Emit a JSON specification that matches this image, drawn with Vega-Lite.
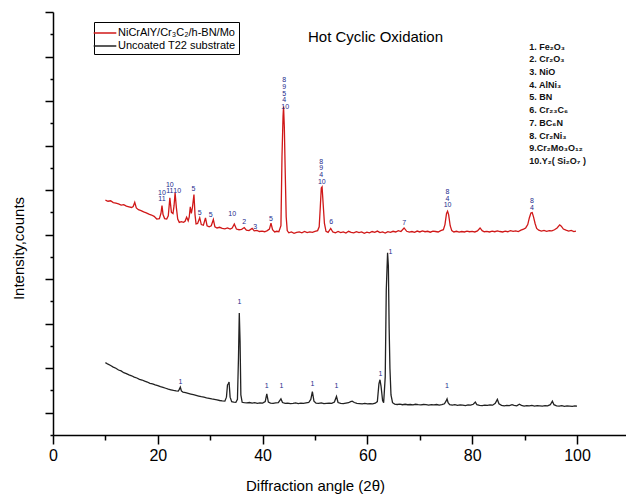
{
  "$schema": "https://vega.github.io/schema/vega-lite/v6.json",
  "width": 573,
  "height": 423,
  "autosize": {"type": "none"},
  "padding": {"left": 53, "top": 12, "right": 0, "bottom": 60},
  "background": "white",
  "config": {
    "font": "Liberation Sans",
    "view": {"stroke": null},
    "axis": {"domainColor": "#000", "domainWidth": 1.5, "tickColor": "#000", "tickWidth": 1.5, "grid": false, "labelColor": "#000", "titleColor": "#000", "titleFontWeight": "normal"}
  },
  "title": {"text": "Hot Cyclic Oxidation", "fontSize": 15, "fontWeight": "normal", "font": "Liberation Sans", "anchor": "middle", "frame": "group", "dx": 36, "dy": 38, "color": "#000"},
  "datasets": {
    "xrd": [
      {"a":10.0,"i":10.55,"s":"coated"},{"a":10.5,"i":10.50,"s":"coated"},{"a":11.0,"i":10.52,"s":"coated"},{"a":11.5,"i":10.44,"s":"coated"},{"a":12.0,"i":10.42,"s":"coated"},{"a":12.5,"i":10.38,"s":"coated"},{"a":13.0,"i":10.33,"s":"coated"},{"a":13.5,"i":10.35,"s":"coated"},{"a":14.0,"i":10.28,"s":"coated"},{"a":14.5,"i":10.25,"s":"coated"},{"a":15.0,"i":10.22,"s":"coated"},{"a":15.3,"i":10.26,"s":"coated"},{"a":15.6,"i":10.45,"s":"coated"},{"a":15.9,"i":10.20,"s":"coated"},{"a":16.3,"i":10.12,"s":"coated"},{"a":16.8,"i":10.08,"s":"coated"},{"a":17.3,"i":10.02,"s":"coated"},{"a":17.8,"i":9.98,"s":"coated"},{"a":18.3,"i":9.92,"s":"coated"},{"a":18.8,"i":9.88,"s":"coated"},{"a":19.3,"i":9.82,"s":"coated"},{"a":19.8,"i":9.70,"s":"coated"},{"a":20.3,"i":9.72,"s":"coated"},{"a":20.6,"i":9.95,"s":"coated"},{"a":20.8,"i":10.30,"s":"coated"},{"a":21.0,"i":9.90,"s":"coated"},{"a":21.3,"i":9.72,"s":"coated"},{"a":21.7,"i":9.70,"s":"coated"},{"a":22.0,"i":9.85,"s":"coated"},{"a":22.3,"i":10.65,"s":"coated"},{"a":22.6,"i":10.00,"s":"coated"},{"a":22.9,"i":9.95,"s":"coated"},{"a":23.1,"i":10.30,"s":"coated"},{"a":23.3,"i":10.88,"s":"coated"},{"a":23.55,"i":10.20,"s":"coated"},{"a":23.8,"i":9.70,"s":"coated"},{"a":24.1,"i":9.55,"s":"coated"},{"a":24.5,"i":9.58,"s":"coated"},{"a":24.9,"i":9.55,"s":"coated"},{"a":25.2,"i":9.60,"s":"coated"},{"a":25.5,"i":9.78,"s":"coated"},{"a":25.8,"i":9.62,"s":"coated"},{"a":26.0,"i":9.80,"s":"coated"},{"a":26.2,"i":10.25,"s":"coated"},{"a":26.4,"i":9.95,"s":"coated"},{"a":26.6,"i":10.20,"s":"coated"},{"a":26.9,"i":10.80,"s":"coated"},{"a":27.1,"i":9.90,"s":"coated"},{"a":27.3,"i":9.48,"s":"coated"},{"a":27.6,"i":9.50,"s":"coated"},{"a":28.0,"i":9.76,"s":"coated"},{"a":28.3,"i":9.45,"s":"coated"},{"a":28.7,"i":9.42,"s":"coated"},{"a":29.1,"i":9.75,"s":"coated"},{"a":29.4,"i":9.40,"s":"coated"},{"a":29.8,"i":9.35,"s":"coated"},{"a":30.2,"i":9.40,"s":"coated"},{"a":30.6,"i":9.68,"s":"coated"},{"a":30.9,"i":9.35,"s":"coated"},{"a":31.3,"i":9.30,"s":"coated"},{"a":31.8,"i":9.33,"s":"coated"},{"a":32.3,"i":9.28,"s":"coated"},{"a":32.8,"i":9.26,"s":"coated"},{"a":33.3,"i":9.30,"s":"coated"},{"a":33.8,"i":9.25,"s":"coated"},{"a":34.2,"i":9.30,"s":"coated"},{"a":34.6,"i":9.48,"s":"coated"},{"a":35.0,"i":9.25,"s":"coated"},{"a":35.5,"i":9.22,"s":"coated"},{"a":36.0,"i":9.24,"s":"coated"},{"a":36.5,"i":9.32,"s":"coated"},{"a":36.9,"i":9.20,"s":"coated"},{"a":37.4,"i":9.18,"s":"coated"},{"a":38.0,"i":9.28,"s":"coated"},{"a":38.4,"i":9.17,"s":"coated"},{"a":38.9,"i":9.19,"s":"coated"},{"a":39.4,"i":9.14,"s":"coated"},{"a":39.9,"i":9.16,"s":"coated"},{"a":40.4,"i":9.13,"s":"coated"},{"a":40.9,"i":9.18,"s":"coated"},{"a":41.3,"i":9.25,"s":"coated"},{"a":41.6,"i":9.52,"s":"coated"},{"a":41.9,"i":9.22,"s":"coated"},{"a":42.3,"i":9.12,"s":"coated"},{"a":42.7,"i":9.15,"s":"coated"},{"a":43.1,"i":9.13,"s":"coated"},{"a":43.5,"i":9.40,"s":"coated"},{"a":43.7,"i":12.50,"s":"coated"},{"a":43.9,"i":14.30,"s":"coated"},{"a":44.0,"i":14.75,"s":"coated"},{"a":44.15,"i":13.80,"s":"coated"},{"a":44.3,"i":12.00,"s":"coated"},{"a":44.5,"i":9.80,"s":"coated"},{"a":44.7,"i":9.18,"s":"coated"},{"a":45.0,"i":9.08,"s":"coated"},{"a":45.5,"i":9.12,"s":"coated"},{"a":46.0,"i":9.06,"s":"coated"},{"a":46.5,"i":9.10,"s":"coated"},{"a":47.0,"i":9.12,"s":"coated"},{"a":47.5,"i":9.08,"s":"coated"},{"a":48.0,"i":9.14,"s":"coated"},{"a":48.5,"i":9.09,"s":"coated"},{"a":49.0,"i":9.12,"s":"coated"},{"a":49.5,"i":9.10,"s":"coated"},{"a":50.0,"i":9.15,"s":"coated"},{"a":50.5,"i":9.18,"s":"coated"},{"a":50.8,"i":9.35,"s":"coated"},{"a":51.0,"i":10.20,"s":"coated"},{"a":51.2,"i":11.10,"s":"coated"},{"a":51.35,"i":11.15,"s":"coated"},{"a":51.55,"i":10.40,"s":"coated"},{"a":51.8,"i":9.50,"s":"coated"},{"a":52.1,"i":9.15,"s":"coated"},{"a":52.5,"i":9.10,"s":"coated"},{"a":53.0,"i":9.28,"s":"coated"},{"a":53.4,"i":9.12,"s":"coated"},{"a":53.9,"i":9.08,"s":"coated"},{"a":54.4,"i":9.14,"s":"coated"},{"a":54.9,"i":9.09,"s":"coated"},{"a":55.4,"i":9.12,"s":"coated"},{"a":55.9,"i":9.07,"s":"coated"},{"a":56.4,"i":9.15,"s":"coated"},{"a":56.9,"i":9.10,"s":"coated"},{"a":57.4,"i":9.08,"s":"coated"},{"a":57.9,"i":9.13,"s":"coated"},{"a":58.4,"i":9.09,"s":"coated"},{"a":58.9,"i":9.12,"s":"coated"},{"a":59.4,"i":9.06,"s":"coated"},{"a":59.9,"i":9.11,"s":"coated"},{"a":60.4,"i":9.08,"s":"coated"},{"a":60.9,"i":9.14,"s":"coated"},{"a":61.4,"i":9.10,"s":"coated"},{"a":61.9,"i":9.16,"s":"coated"},{"a":62.4,"i":9.09,"s":"coated"},{"a":62.9,"i":9.12,"s":"coated"},{"a":63.4,"i":9.07,"s":"coated"},{"a":63.9,"i":9.13,"s":"coated"},{"a":64.4,"i":9.10,"s":"coated"},{"a":64.9,"i":9.15,"s":"coated"},{"a":65.4,"i":9.12,"s":"coated"},{"a":65.9,"i":9.18,"s":"coated"},{"a":66.4,"i":9.14,"s":"coated"},{"a":67.0,"i":9.30,"s":"coated"},{"a":67.5,"i":9.15,"s":"coated"},{"a":68.0,"i":9.11,"s":"coated"},{"a":68.5,"i":9.14,"s":"coated"},{"a":69.0,"i":9.10,"s":"coated"},{"a":69.5,"i":9.16,"s":"coated"},{"a":70.0,"i":9.12,"s":"coated"},{"a":70.5,"i":9.17,"s":"coated"},{"a":71.0,"i":9.13,"s":"coated"},{"a":71.5,"i":9.15,"s":"coated"},{"a":72.0,"i":9.11,"s":"coated"},{"a":72.5,"i":9.16,"s":"coated"},{"a":73.0,"i":9.14,"s":"coated"},{"a":73.5,"i":9.12,"s":"coated"},{"a":74.0,"i":9.18,"s":"coated"},{"a":74.5,"i":9.22,"s":"coated"},{"a":74.8,"i":9.45,"s":"coated"},{"a":75.1,"i":9.95,"s":"coated"},{"a":75.3,"i":10.05,"s":"coated"},{"a":75.5,"i":9.90,"s":"coated"},{"a":75.8,"i":9.40,"s":"coated"},{"a":76.1,"i":9.18,"s":"coated"},{"a":76.5,"i":9.12,"s":"coated"},{"a":77.0,"i":9.15,"s":"coated"},{"a":77.5,"i":9.11,"s":"coated"},{"a":78.0,"i":9.14,"s":"coated"},{"a":78.5,"i":9.12,"s":"coated"},{"a":79.0,"i":9.16,"s":"coated"},{"a":79.5,"i":9.13,"s":"coated"},{"a":80.0,"i":9.15,"s":"coated"},{"a":80.5,"i":9.12,"s":"coated"},{"a":81.0,"i":9.17,"s":"coated"},{"a":81.5,"i":9.30,"s":"coated"},{"a":81.9,"i":9.18,"s":"coated"},{"a":82.3,"i":9.13,"s":"coated"},{"a":82.8,"i":9.15,"s":"coated"},{"a":83.3,"i":9.12,"s":"coated"},{"a":83.8,"i":9.16,"s":"coated"},{"a":84.3,"i":9.13,"s":"coated"},{"a":84.8,"i":9.17,"s":"coated"},{"a":85.3,"i":9.14,"s":"coated"},{"a":85.8,"i":9.12,"s":"coated"},{"a":86.3,"i":9.16,"s":"coated"},{"a":86.8,"i":9.13,"s":"coated"},{"a":87.3,"i":9.18,"s":"coated"},{"a":87.8,"i":9.15,"s":"coated"},{"a":88.3,"i":9.17,"s":"coated"},{"a":88.8,"i":9.14,"s":"coated"},{"a":89.3,"i":9.20,"s":"coated"},{"a":89.8,"i":9.25,"s":"coated"},{"a":90.2,"i":9.30,"s":"coated"},{"a":90.6,"i":9.45,"s":"coated"},{"a":90.9,"i":9.75,"s":"coated"},{"a":91.2,"i":9.97,"s":"coated"},{"a":91.45,"i":9.99,"s":"coated"},{"a":91.7,"i":9.80,"s":"coated"},{"a":92.0,"i":9.50,"s":"coated"},{"a":92.3,"i":9.28,"s":"coated"},{"a":92.7,"i":9.20,"s":"coated"},{"a":93.2,"i":9.16,"s":"coated"},{"a":93.7,"i":9.19,"s":"coated"},{"a":94.2,"i":9.15,"s":"coated"},{"a":94.7,"i":9.18,"s":"coated"},{"a":95.2,"i":9.17,"s":"coated"},{"a":95.7,"i":9.22,"s":"coated"},{"a":96.2,"i":9.30,"s":"coated"},{"a":96.7,"i":9.44,"s":"coated"},{"a":97.0,"i":9.38,"s":"coated"},{"a":97.4,"i":9.25,"s":"coated"},{"a":97.9,"i":9.20,"s":"coated"},{"a":98.4,"i":9.16,"s":"coated"},{"a":98.9,"i":9.19,"s":"coated"},{"a":99.4,"i":9.14,"s":"coated"},{"a":99.8,"i":9.16,"s":"coated"},
      {"a":10.0,"i":3.25,"s":"uncoated"},{"a":10.5,"i":3.18,"s":"uncoated"},{"a":11.0,"i":3.12,"s":"uncoated"},{"a":11.5,"i":3.05,"s":"uncoated"},{"a":12.0,"i":3.00,"s":"uncoated"},{"a":12.5,"i":2.92,"s":"uncoated"},{"a":13.0,"i":2.88,"s":"uncoated"},{"a":13.5,"i":2.80,"s":"uncoated"},{"a":14.0,"i":2.76,"s":"uncoated"},{"a":14.5,"i":2.70,"s":"uncoated"},{"a":15.0,"i":2.66,"s":"uncoated"},{"a":15.5,"i":2.60,"s":"uncoated"},{"a":16.0,"i":2.56,"s":"uncoated"},{"a":16.5,"i":2.50,"s":"uncoated"},{"a":17.0,"i":2.47,"s":"uncoated"},{"a":17.5,"i":2.42,"s":"uncoated"},{"a":18.0,"i":2.38,"s":"uncoated"},{"a":18.5,"i":2.32,"s":"uncoated"},{"a":19.0,"i":2.30,"s":"uncoated"},{"a":19.5,"i":2.25,"s":"uncoated"},{"a":20.0,"i":2.22,"s":"uncoated"},{"a":20.5,"i":2.17,"s":"uncoated"},{"a":21.0,"i":2.14,"s":"uncoated"},{"a":21.5,"i":2.10,"s":"uncoated"},{"a":22.0,"i":2.06,"s":"uncoated"},{"a":22.5,"i":2.03,"s":"uncoated"},{"a":23.0,"i":2.00,"s":"uncoated"},{"a":23.5,"i":1.98,"s":"uncoated"},{"a":23.9,"i":1.97,"s":"uncoated"},{"a":24.1,"i":2.05,"s":"uncoated"},{"a":24.3,"i":2.15,"s":"uncoated"},{"a":24.5,"i":1.98,"s":"uncoated"},{"a":24.8,"i":1.93,"s":"uncoated"},{"a":25.3,"i":1.90,"s":"uncoated"},{"a":25.8,"i":1.87,"s":"uncoated"},{"a":26.3,"i":1.84,"s":"uncoated"},{"a":26.8,"i":1.81,"s":"uncoated"},{"a":27.3,"i":1.78,"s":"uncoated"},{"a":27.8,"i":1.75,"s":"uncoated"},{"a":28.3,"i":1.72,"s":"uncoated"},{"a":28.8,"i":1.70,"s":"uncoated"},{"a":29.3,"i":1.67,"s":"uncoated"},{"a":29.8,"i":1.65,"s":"uncoated"},{"a":30.3,"i":1.62,"s":"uncoated"},{"a":30.8,"i":1.60,"s":"uncoated"},{"a":31.3,"i":1.58,"s":"uncoated"},{"a":31.8,"i":1.55,"s":"uncoated"},{"a":32.3,"i":1.53,"s":"uncoated"},{"a":32.8,"i":1.52,"s":"uncoated"},{"a":33.1,"i":1.70,"s":"uncoated"},{"a":33.3,"i":2.25,"s":"uncoated"},{"a":33.45,"i":2.30,"s":"uncoated"},{"a":33.6,"i":2.38,"s":"uncoated"},{"a":33.8,"i":1.70,"s":"uncoated"},{"a":34.1,"i":1.50,"s":"uncoated"},{"a":34.5,"i":1.48,"s":"uncoated"},{"a":34.9,"i":1.47,"s":"uncoated"},{"a":35.2,"i":1.60,"s":"uncoated"},{"a":35.4,"i":3.50,"s":"uncoated"},{"a":35.55,"i":5.48,"s":"uncoated"},{"a":35.7,"i":4.20,"s":"uncoated"},{"a":35.85,"i":1.80,"s":"uncoated"},{"a":36.1,"i":1.47,"s":"uncoated"},{"a":36.5,"i":1.45,"s":"uncoated"},{"a":37.0,"i":1.44,"s":"uncoated"},{"a":37.5,"i":1.46,"s":"uncoated"},{"a":38.0,"i":1.43,"s":"uncoated"},{"a":38.5,"i":1.45,"s":"uncoated"},{"a":39.0,"i":1.42,"s":"uncoated"},{"a":39.5,"i":1.44,"s":"uncoated"},{"a":40.0,"i":1.43,"s":"uncoated"},{"a":40.5,"i":1.50,"s":"uncoated"},{"a":40.8,"i":1.85,"s":"uncoated"},{"a":41.1,"i":1.48,"s":"uncoated"},{"a":41.5,"i":1.43,"s":"uncoated"},{"a":42.0,"i":1.42,"s":"uncoated"},{"a":42.5,"i":1.44,"s":"uncoated"},{"a":43.0,"i":1.45,"s":"uncoated"},{"a":43.5,"i":1.62,"s":"uncoated"},{"a":43.8,"i":1.46,"s":"uncoated"},{"a":44.3,"i":1.42,"s":"uncoated"},{"a":44.8,"i":1.43,"s":"uncoated"},{"a":45.3,"i":1.41,"s":"uncoated"},{"a":45.8,"i":1.42,"s":"uncoated"},{"a":46.3,"i":1.44,"s":"uncoated"},{"a":46.8,"i":1.41,"s":"uncoated"},{"a":47.3,"i":1.43,"s":"uncoated"},{"a":47.8,"i":1.42,"s":"uncoated"},{"a":48.3,"i":1.44,"s":"uncoated"},{"a":48.8,"i":1.46,"s":"uncoated"},{"a":49.2,"i":1.60,"s":"uncoated"},{"a":49.5,"i":1.95,"s":"uncoated"},{"a":49.8,"i":1.52,"s":"uncoated"},{"a":50.2,"i":1.43,"s":"uncoated"},{"a":50.7,"i":1.42,"s":"uncoated"},{"a":51.2,"i":1.44,"s":"uncoated"},{"a":51.7,"i":1.41,"s":"uncoated"},{"a":52.2,"i":1.42,"s":"uncoated"},{"a":52.7,"i":1.43,"s":"uncoated"},{"a":53.2,"i":1.42,"s":"uncoated"},{"a":53.7,"i":1.48,"s":"uncoated"},{"a":54.1,"i":1.73,"s":"uncoated"},{"a":54.4,"i":1.46,"s":"uncoated"},{"a":54.9,"i":1.42,"s":"uncoated"},{"a":55.4,"i":1.41,"s":"uncoated"},{"a":55.9,"i":1.43,"s":"uncoated"},{"a":56.4,"i":1.45,"s":"uncoated"},{"a":56.8,"i":1.50,"s":"uncoated"},{"a":57.1,"i":1.52,"s":"uncoated"},{"a":57.5,"i":1.46,"s":"uncoated"},{"a":58.0,"i":1.42,"s":"uncoated"},{"a":58.5,"i":1.41,"s":"uncoated"},{"a":59.0,"i":1.40,"s":"uncoated"},{"a":59.5,"i":1.42,"s":"uncoated"},{"a":60.0,"i":1.40,"s":"uncoated"},{"a":60.5,"i":1.41,"s":"uncoated"},{"a":61.0,"i":1.40,"s":"uncoated"},{"a":61.5,"i":1.43,"s":"uncoated"},{"a":61.9,"i":1.50,"s":"uncoated"},{"a":62.2,"i":2.30,"s":"uncoated"},{"a":62.4,"i":2.48,"s":"uncoated"},{"a":62.6,"i":2.20,"s":"uncoated"},{"a":62.9,"i":1.55,"s":"uncoated"},{"a":63.1,"i":1.45,"s":"uncoated"},{"a":63.4,"i":2.60,"s":"uncoated"},{"a":63.6,"i":6.50,"s":"uncoated"},{"a":63.85,"i":8.18,"s":"uncoated"},{"a":64.0,"i":7.60,"s":"uncoated"},{"a":64.15,"i":4.80,"s":"uncoated"},{"a":64.3,"i":3.00,"s":"uncoated"},{"a":64.5,"i":1.80,"s":"uncoated"},{"a":64.8,"i":1.45,"s":"uncoated"},{"a":65.2,"i":1.39,"s":"uncoated"},{"a":65.7,"i":1.37,"s":"uncoated"},{"a":66.2,"i":1.39,"s":"uncoated"},{"a":66.7,"i":1.36,"s":"uncoated"},{"a":67.2,"i":1.38,"s":"uncoated"},{"a":67.7,"i":1.36,"s":"uncoated"},{"a":68.2,"i":1.37,"s":"uncoated"},{"a":68.7,"i":1.35,"s":"uncoated"},{"a":69.2,"i":1.38,"s":"uncoated"},{"a":69.7,"i":1.36,"s":"uncoated"},{"a":70.2,"i":1.35,"s":"uncoated"},{"a":70.7,"i":1.37,"s":"uncoated"},{"a":71.2,"i":1.36,"s":"uncoated"},{"a":71.7,"i":1.34,"s":"uncoated"},{"a":72.2,"i":1.36,"s":"uncoated"},{"a":72.7,"i":1.35,"s":"uncoated"},{"a":73.2,"i":1.37,"s":"uncoated"},{"a":73.7,"i":1.34,"s":"uncoated"},{"a":74.2,"i":1.36,"s":"uncoated"},{"a":74.7,"i":1.40,"s":"uncoated"},{"a":75.0,"i":1.52,"s":"uncoated"},{"a":75.2,"i":1.62,"s":"uncoated"},{"a":75.4,"i":1.45,"s":"uncoated"},{"a":75.7,"i":1.36,"s":"uncoated"},{"a":76.2,"i":1.34,"s":"uncoated"},{"a":76.7,"i":1.36,"s":"uncoated"},{"a":77.2,"i":1.33,"s":"uncoated"},{"a":77.7,"i":1.35,"s":"uncoated"},{"a":78.2,"i":1.34,"s":"uncoated"},{"a":78.7,"i":1.32,"s":"uncoated"},{"a":79.2,"i":1.35,"s":"uncoated"},{"a":79.7,"i":1.34,"s":"uncoated"},{"a":80.2,"i":1.38,"s":"uncoated"},{"a":80.6,"i":1.48,"s":"uncoated"},{"a":80.9,"i":1.36,"s":"uncoated"},{"a":81.4,"i":1.33,"s":"uncoated"},{"a":81.9,"i":1.32,"s":"uncoated"},{"a":82.4,"i":1.34,"s":"uncoated"},{"a":82.9,"i":1.33,"s":"uncoated"},{"a":83.4,"i":1.35,"s":"uncoated"},{"a":83.9,"i":1.34,"s":"uncoated"},{"a":84.4,"i":1.42,"s":"uncoated"},{"a":84.8,"i":1.60,"s":"uncoated"},{"a":85.1,"i":1.40,"s":"uncoated"},{"a":85.6,"i":1.33,"s":"uncoated"},{"a":86.1,"i":1.31,"s":"uncoated"},{"a":86.6,"i":1.33,"s":"uncoated"},{"a":87.1,"i":1.32,"s":"uncoated"},{"a":87.6,"i":1.36,"s":"uncoated"},{"a":88.0,"i":1.33,"s":"uncoated"},{"a":88.5,"i":1.31,"s":"uncoated"},{"a":89.0,"i":1.38,"s":"uncoated"},{"a":89.4,"i":1.33,"s":"uncoated"},{"a":89.9,"i":1.30,"s":"uncoated"},{"a":90.4,"i":1.32,"s":"uncoated"},{"a":90.9,"i":1.31,"s":"uncoated"},{"a":91.4,"i":1.33,"s":"uncoated"},{"a":91.9,"i":1.30,"s":"uncoated"},{"a":92.4,"i":1.32,"s":"uncoated"},{"a":92.9,"i":1.31,"s":"uncoated"},{"a":93.4,"i":1.30,"s":"uncoated"},{"a":93.9,"i":1.32,"s":"uncoated"},{"a":94.4,"i":1.31,"s":"uncoated"},{"a":94.9,"i":1.36,"s":"uncoated"},{"a":95.3,"i":1.52,"s":"uncoated"},{"a":95.6,"i":1.36,"s":"uncoated"},{"a":96.1,"i":1.31,"s":"uncoated"},{"a":96.6,"i":1.30,"s":"uncoated"},{"a":97.1,"i":1.32,"s":"uncoated"},{"a":97.6,"i":1.29,"s":"uncoated"},{"a":98.1,"i":1.31,"s":"uncoated"},{"a":98.6,"i":1.30,"s":"uncoated"},{"a":99.1,"i":1.29,"s":"uncoated"},{"a":99.6,"i":1.31,"s":"uncoated"},{"a":100.0,"i":1.30,"s":"uncoated"}
    ],
    "peaks": [
      {"a":20.8,"i":10.89,"t":"10"},{"a":20.8,"i":10.62,"t":"11"},
      {"a":22.3,"i":11.25,"t":"10"},{"a":22.3,"i":10.94,"t":"11"},
      {"a":23.7,"i":10.94,"t":"10"},
      {"a":26.8,"i":11.03,"t":"5"},
      {"a":28.0,"i":9.99,"t":"5"},
      {"a":30.1,"i":9.9,"t":"5"},
      {"a":34.2,"i":9.94,"t":"10"},
      {"a":36.5,"i":9.58,"t":"2"},
      {"a":38.6,"i":9.36,"t":"3"},
      {"a":41.6,"i":9.72,"t":"5"},
      {"a":44.1,"i":15.94,"t":"8"},{"a":44.1,"i":15.62,"t":"9"},{"a":44.1,"i":15.33,"t":"5"},{"a":44.1,"i":15.03,"t":"4"},{"a":44.3,"i":14.72,"t":"10"},
      {"a":51.2,"i":12.28,"t":"8"},{"a":51.2,"i":12.0,"t":"9"},{"a":51.2,"i":11.67,"t":"4"},{"a":51.3,"i":11.37,"t":"10"},
      {"a":53.1,"i":9.55,"t":"6"},
      {"a":67.0,"i":9.53,"t":"7"},
      {"a":75.3,"i":10.92,"t":"8"},{"a":75.3,"i":10.62,"t":"4"},{"a":75.3,"i":10.31,"t":"10"},
      {"a":91.4,"i":10.5,"t":"8"},{"a":91.4,"i":10.2,"t":"4"},
      {"a":24.3,"i":2.40,"t":"1"},{"a":35.6,"i":5.96,"t":"1"},{"a":40.8,"i":2.22,"t":"1"},{"a":43.6,"i":2.22,"t":"1"},{"a":49.5,"i":2.29,"t":"1"},{"a":54.1,"i":2.18,"t":"1"},{"a":62.5,"i":2.74,"t":"1"},{"a":64.4,"i":8.22,"t":"1"},{"a":75.2,"i":2.18,"t":"1"}
    ],
    "phases": [
      {"a":90.9,"i":17.44,"t":"1. Fe₂O₃"},
      {"a":90.9,"i":16.87,"t":"2. Cr₂O₃"},
      {"a":90.9,"i":16.30,"t":"3. NiO"},
      {"a":90.9,"i":15.73,"t":"4. AlNi₃"},
      {"a":90.9,"i":15.16,"t":"5. BN"},
      {"a":90.9,"i":14.58,"t":"6. Cr₂₃C₆"},
      {"a":90.9,"i":14.01,"t":"7. BC₆N"},
      {"a":90.9,"i":13.44,"t":"8. Cr₂Ni₃"},
      {"a":90.9,"i":12.87,"t":"9.Cr₂Mo₃O₁₂"},
      {"a":90.9,"i":12.30,"t":"10.Y₂( Si₂O₇ )"}
    ]
  },
  "encoding": {
    "x": {
      "field": "a", "type": "quantitative",
      "scale": {"domain": [0, 109.35], "nice": false, "zero": false},
      "axis": {
        "values": [0, 10, 20, 30, 40, 50, 60, 70, 80, 90, 100],
        "labelExpr": "datum.value % 20 === 0 ? datum.label : ''",
        "tickSize": {"condition": {"test": "datum.value % 20 === 0", "value": 9}, "value": 5},
        "labelFontSize": 16, "labelFont": "Liberation Sans", "labelPadding": 3,
        "labelOverlap": false, "labelFlush": false,
        "title": "Diffraction angle (2θ)", "titleFontSize": 15, "titleFont": "Liberation Sans",
        "titleX": 262, "titleY": 50, "titleBaseline": "middle", "titleAlign": "center"
      }
    },
    "y": {
      "field": "i", "type": "quantitative",
      "scale": {"domain": [0, 19], "nice": false, "zero": false},
      "axis": {
        "values": [0,1,2,3,4,5,6,7,8,9,10,11,12,13,14,15,16,17,18,19],
        "labels": false,
        "tickSize": {"condition": {"test": "datum.value % 2 === 1", "value": 8}, "value": 3},
        "title": "Intensity,counts", "titleFontSize": 15, "titleFont": "Liberation Sans",
        "titleX": -35, "titleY": 236, "titleBaseline": "middle", "titleAlign": "center"
      }
    }
  },
  "layer": [
    {
      "data": {"name": "xrd"},
      "mark": {"type": "line", "strokeWidth": 1.3, "interpolate": "linear"},
      "encoding": {
        "color": {
          "field": "s", "type": "nominal",
          "scale": {"domain": ["coated", "uncoated"], "range": ["#d01818", "#222222"]},
          "legend": {
            "orient": "none", "legendX": 41, "legendY": 10, "title": null,
            "labelExpr": "datum.value == 'coated' ? 'NiCrAlY/Cr₃C₂/h-BN/Mo' : 'Uncoated T22 substrate'",
            "strokeColor": "#000", "fillColor": "white", "padding": 3,
            "symbolType": "M-1.6,0H1.6", "symbolSize": 200, "symbolStrokeWidth": 1.5,
            "labelFontSize": 11, "labelFont": "Liberation Sans", "labelColor": "#000", "labelOffset": 5, "rowPadding": 0
          }
        }
      }
    },
    {
      "data": {"name": "peaks"},
      "mark": {"type": "text", "fontSize": 7, "color": "#1c2a8c", "baseline": "middle", "align": "center", "font": "Liberation Sans"},
      "encoding": {"text": {"field": "t"}}
    },
    {
      "data": {"name": "phases"},
      "mark": {"type": "text", "fontSize": 9, "fontWeight": "bold", "color": "#111", "baseline": "middle", "align": "left", "font": "Liberation Sans"},
      "encoding": {"text": {"field": "t"}}
    }
  ]
}
